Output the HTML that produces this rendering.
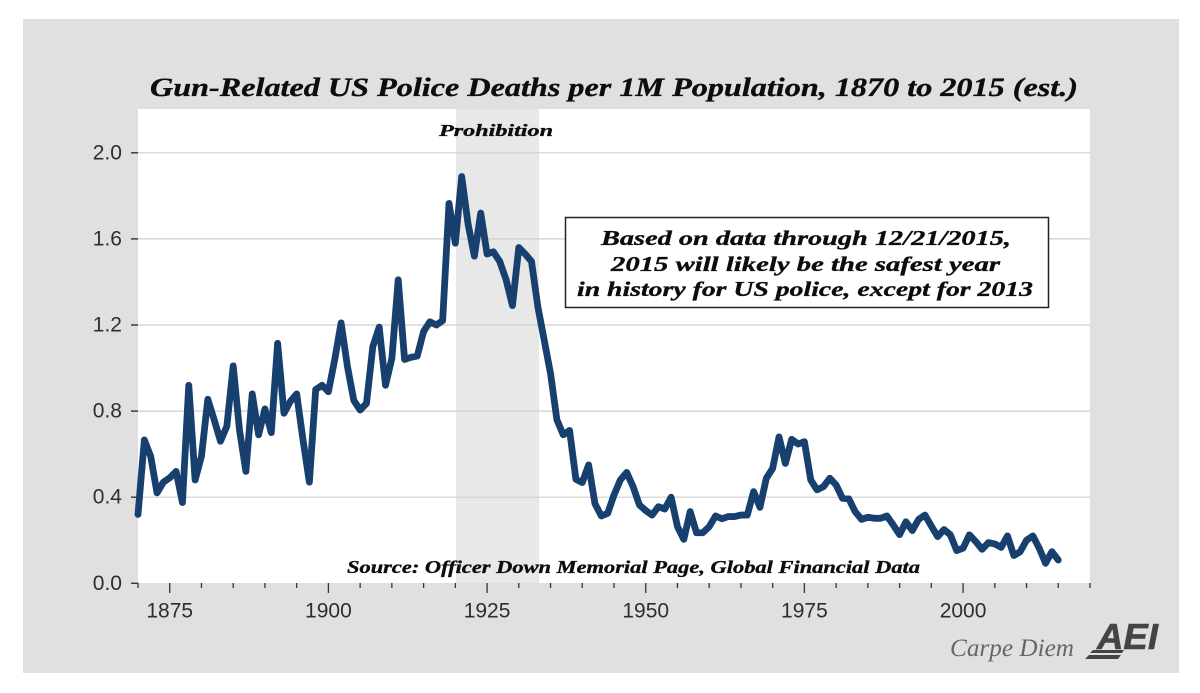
<!DOCTYPE html>
<html lang="en">
<head>
<meta charset="utf-8">
<title>Gun-Related US Police Deaths per 1M Population</title>
<style>
html,body{margin:0;padding:0;background:#fff;width:1200px;height:693px;overflow:hidden}
svg{display:block}
.serif{font-family:"Liberation Serif",serif;font-style:italic;font-weight:bold;fill:#0d0d0d;stroke:#0d0d0d;stroke-width:0.35px}
.tick-label{font-family:"Liberation Sans",sans-serif;font-size:21px;fill:#2e2e2e}
</style>
</head>
<body>
<svg id="chart" width="1200" height="693" viewBox="0 0 1200 693" xmlns="http://www.w3.org/2000/svg">
  <rect x="0" y="0" width="1200" height="693" fill="#ffffff"/>
  <rect x="23" y="19" width="1156" height="654" fill="#e0e0e0"/>
  <rect x="138" y="109" width="952" height="474" fill="#ffffff"/>
  <g id="bands"></g>
  <g id="grid"></g>
  <g id="axes"></g>
  <g id="series"></g>
  <text class="serif" x="150" y="96" font-size="26" textLength="928" lengthAdjust="spacingAndGlyphs">Gun-Related US Police Deaths per 1M Population, 1870 to 2015 (est.)</text>
  <text class="serif" x="439" y="136" font-size="17" textLength="114" lengthAdjust="spacingAndGlyphs">Prohibition</text>
  <rect x="565.5" y="217.5" width="483" height="90" fill="#ffffff" stroke="#222222" stroke-width="1.5"/>
  <text class="serif" x="601" y="245" font-size="21" textLength="410" lengthAdjust="spacingAndGlyphs">Based on data through 12/21/2015,</text>
  <text class="serif" x="611" y="271" font-size="21" textLength="389" lengthAdjust="spacingAndGlyphs">2015 will likely be the safest year</text>
  <text class="serif" x="577" y="296" font-size="21" textLength="456" lengthAdjust="spacingAndGlyphs">in history for US police, except for 2013</text>
  <text class="serif" x="347" y="573" font-size="18" textLength="573" lengthAdjust="spacingAndGlyphs">Source: Officer Down Memorial Page, Global Financial Data</text>
  <text x="950" y="656" font-family="Liberation Serif, serif" font-style="italic" font-size="25" fill="#666666" textLength="124" lengthAdjust="spacingAndGlyphs">Carpe Diem</text>
  <g>
    <text x="1097" y="649" font-family="Liberation Sans, sans-serif" font-style="italic" font-weight="bold" font-size="36" fill="#444444" stroke="#444444" stroke-width="0.6" textLength="61" lengthAdjust="spacingAndGlyphs">AEI</text>
    <polygon points="1093,650 1124,650 1122,653 1090,653" fill="#444444"/>
    <polygon points="1089,655 1121,655 1118,659 1085,659" fill="#444444"/>
  </g>
</svg>
<script>
const startYear = 1870;
const values = [
0.32,0.666,0.59,0.42,0.47,0.49,0.52,0.375,0.92,0.48,
0.59,0.855,0.76,0.66,0.73,1.01,0.71,0.52,0.88,0.69,
0.81,0.70,1.115,0.79,0.845,0.88,0.666,0.47,0.90,0.92,
0.89,1.04,1.21,1.007,0.85,0.805,0.836,1.10,1.19,0.92,
1.045,1.41,1.04,1.05,1.056,1.17,1.215,1.20,1.22,1.765,
1.58,1.89,1.67,1.52,1.72,1.53,1.54,1.495,1.41,1.29,
1.56,1.53,1.495,1.285,1.13,0.975,0.76,0.69,0.71,0.483,
0.468,0.55,0.37,0.313,0.325,0.41,0.48,0.515,0.45,0.364,
0.338,0.317,0.356,0.345,0.40,0.263,0.204,0.333,0.235,0.235,
0.263,0.313,0.30,0.31,0.31,0.317,0.317,0.426,0.353,0.488,
0.534,0.68,0.557,0.669,0.647,0.658,0.48,0.434,0.449,0.488,
0.457,0.395,0.392,0.333,0.297,0.307,0.302,0.302,0.313,0.271,
0.226,0.286,0.245,0.297,0.317,0.266,0.217,0.25,0.225,0.152,
0.163,0.225,0.194,0.158,0.189,0.183,0.167,0.22,0.129,0.147,
0.20,0.22,0.163,0.093,0.147,0.108
];
const yTickValues = [0.0, 0.4, 0.8, 1.2, 1.6, 2.0];
const yTickLabels = ["0.0", "0.4", "0.8", "1.2", "1.6", "2.0"];
const xTickYears = [1870,1875,1880,1885,1890,1895,1900,1905,1910,1915,1920,1925,1930,1935,1940,1945,1950,1955,1960,1965,1970,1975,1980,1985,1990,1995,2000,2005,2010,2015,2020];
const xLabelYears = [1875, 1900, 1925, 1950, 1975, 2000];
const xLabelTexts = ["1875", "1900", "1925", "1950", "1975", "2000"];
const prohibitionYears = [1920.1, 1933.2];

const NS = 'http://www.w3.org/2000/svg';
function xScale(year) { return 138 + (year - 1870) * (952 / 150); }
function yScale(v) { return 583.3 - v * 215.25; }
function make(tag, attrs, parent) {
  const el = document.createElementNS(NS, tag);
  for (const k in attrs) el.setAttribute(k, attrs[k]);
  parent.appendChild(el);
  return el;
}

const bands = document.getElementById('bands');
const grid = document.getElementById('grid');
const axes = document.getElementById('axes');
const series = document.getElementById('series');

const band = make('rect', {
  x: xScale(prohibitionYears[0]), y: 109,
  width: xScale(prohibitionYears[1]) - xScale(prohibitionYears[0]), height: 474,
  fill: '#e8e8e8'
}, bands);



yTickValues.forEach(function (v, i) {
  const y = yScale(v);
  if (v > 0) {
    const g = make('line', { x1: 138, x2: 1090, y1: y, y2: y, stroke: '#cfcfcf', 'stroke-width': 1.2 }, grid);
    
    
  }
  const t = make('line', { x1: 131, x2: 138, y1: y, y2: y, stroke: '#333333', 'stroke-width': 1.4 }, axes);
  
  
  const l = make('text', { x: 122, y: y + 6.5, 'text-anchor': 'end', class: 'tick-label' }, axes);
  l.textContent = yTickLabels[i];
  
  
});

xTickYears.forEach(function (yr) {
  const major = xLabelYears.indexOf(yr) >= 0;
  const x = xScale(yr);
  const t = make('line', { x1: x, x2: x, y1: 583, y2: major ? 593 : 588, stroke: '#333333', 'stroke-width': 1.3 }, axes);
  
  
});

xLabelYears.forEach(function (yr, i) {
  const l = make('text', { x: xScale(yr), y: 617.5, 'text-anchor': 'middle', class: 'tick-label' }, axes);
  l.textContent = xLabelTexts[i];
  
  
});

const d = values.map(function (v, i) {
  return (i ? 'L' : 'M') + xScale(startYear + i).toFixed(2) + ' ' + yScale(v).toFixed(2);
}).join(' ');
const line = make('path', {
  d: d, fill: 'none', stroke: '#17406f', 'stroke-width': 6.8,
  'stroke-linejoin': 'round', 'stroke-linecap': 'round'
}, series);


</script>
</body>
</html>
